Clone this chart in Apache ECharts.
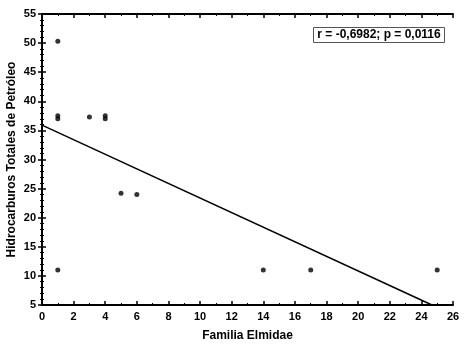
<!DOCTYPE html>
<html><head><meta charset="utf-8">
<script src="https://cdn.jsdelivr.net/npm/echarts@6/dist/echarts.min.js"></script>
<style>html,body{margin:0;padding:0;background:#fff}#c{width:464px;height:347px}</style>
</head><body><div id="c"></div>
<script>
var xValues = [1, 1, 1, 3, 4, 4, 5, 6, 1, 14, 17, 25];
var yValues = [50.3, 37.5, 37.0, 37.3, 37.5, 37.0, 24.2, 24.0, 11.0, 11.0, 11.0, 11.0];
var fitX = [0, 24.67];
var fitY = [35.9, 5];
var annotation = 'r = -0,6982; p = 0,0116';
var xTitle = 'Familia Elmidae';
var yTitle = 'Hidrocarburos Totales de Petróleo';

var font = '"Liberation Sans", Arial, sans-serif';
var chart = echarts.init(document.getElementById('c'));
function axisBase(show) {
  return {
    axisLine: {show: true, lineStyle: {color: '#000', width: 2}},
    axisTick: {show: true, inside: true, length: 4, lineStyle: {color: '#000', width: 1.5}},
    minorTick: {show: true, splitNumber: 2, length: 2, lineStyle: {color: '#000', width: 1}},
    splitLine: {show: false},
    axisLabel: {show: show, color: '#000', fontFamily: font, fontWeight: 'bold', fontSize: 11}
  };
}
var xa = axisBase(true);
xa = Object.assign(xa, {type: 'value', min: 0, max: 26, interval: 2, position: 'bottom',
  name: xTitle, nameLocation: 'middle', nameGap: 25, nameMoveOverlap: false,
  nameTextStyle: {color: '#000', fontFamily: font, fontWeight: 'bold', fontSize: 12}});
xa.axisLabel.margin = 6;
var xb = axisBase(false);
xb = Object.assign(xb, {type: 'value', min: 0, max: 26, interval: 2, position: 'top'});
var ya = axisBase(true);
ya = Object.assign(ya, {type: 'value', min: 5, max: 55, interval: 5, position: 'left',
  name: yTitle, nameLocation: 'middle', nameGap: 24, nameMoveOverlap: false,
  nameTextStyle: {color: '#000', fontFamily: font, fontWeight: 'bold', fontSize: 12}});
ya.minorTick.splitNumber = 5;
ya.axisLabel.margin = 6;
var yb = axisBase(false);
yb = Object.assign(yb, {type: 'value', min: 5, max: 55, interval: 5, position: 'right'});
yb.minorTick.splitNumber = 5;

chart.setOption({
  animation: false,
  backgroundColor: '#fff',
  grid: {left: 42, right: 11, top: 14, bottom: 42, containLabel: false, outerBoundsMode: 'none'},
  xAxis: [xa, xb],
  yAxis: [ya, yb],
  graphic: [{
    type: 'group', right: 19, top: 27,
    children: [
      {type: 'rect', shape: {x: 0, y: 0, width: 131, height: 15}, style: {fill: '#fff', stroke: '#555', lineWidth: 1}},
      {type: 'text', x: 65.5, y: 7.5, style: {text: annotation, fill: '#000', font: 'bold 12px ' + font, textAlign: 'center', textVerticalAlign: 'middle'}}
    ]
  }],
  series: [
    {type: 'scatter', xAxisIndex: 0, yAxisIndex: 0, symbol: 'circle', symbolSize: 5,
     itemStyle: {color: '#000'}, data: xValues.map(function (x, i) { return [x, yValues[i]]; })},
    {type: 'line', xAxisIndex: 0, yAxisIndex: 0, symbol: 'none',
     lineStyle: {color: '#000', width: 1.5}, data: fitX.map(function (x, i) { return [x, fitY[i]]; })}
  ]
});
</script></body></html>
